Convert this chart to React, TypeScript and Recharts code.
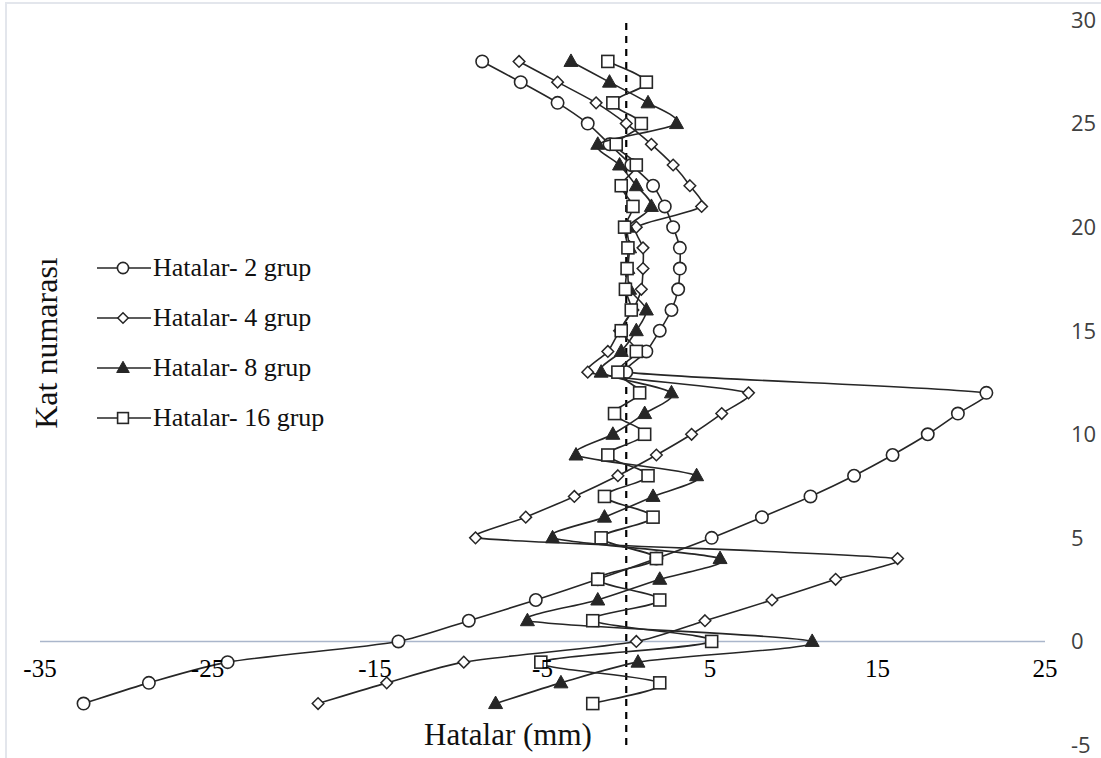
import React from "react";
import {
  Legend,
  ReferenceDot,
  ReferenceLine,
  Scatter,
  ScatterChart,
  XAxis,
  YAxis,
} from "recharts";

// floor numbers, bottom to top
const floors = [
  -3, -2, -1, 0, 1, 2, 3, 4, 5, 6, 7, 8, 9, 10, 11, 12,
  13, 14, 15, 16, 17, 18, 19, 20, 21, 22, 23, 24, 25, 26, 27, 28,
];

// errors (mm) per floor for each grouping
const err2 = [
  -32.4, -28.5, -23.8, -13.6, -9.4, -5.4, -1.7, 1.8, 5.1, 8.1, 11.0, 13.6, 15.9, 18.0, 19.8, 21.5,
  0.0, 1.2, 2.0, 2.7, 3.1, 3.2, 3.2, 2.8, 2.3, 1.6, 0.3, -1.0, -2.3, -4.1, -6.3, -8.6,
];
const err4 = [
  -18.4, -14.3, -9.7, 0.6, 4.7, 8.7, 12.5, 16.2, -9.0, -6.0, -3.1, -0.5, 1.8, 3.9, 5.7, 7.3,
  -2.3, -1.1, -0.4, 0.4, 0.9, 1.0, 1.0, 0.6, 4.5, 3.8, 2.8, 1.5, 0.0, -1.8, -4.1, -6.4,
];
const err8 = [
  -7.8, -3.9, 0.7, 11.1, -5.9, -1.7, 2.0, 5.6, -4.4, -1.3, 1.6, 4.2, -3.0, -0.8, 1.1, 2.7,
  -1.5, -0.3, 0.6, 1.2, 0.2, 0.1, 0.2, 0.1, 1.5, 0.6, -0.4, -1.7, 3.0, 1.3, -1.0, -3.3,
];
const err16 = [
  -2.0, 2.0, -5.1, 5.1, -2.0, 2.0, -1.7, 1.8, -1.5, 1.6, -1.3, 1.3, -1.1, 1.1, -0.7, 0.8,
  -0.5, 0.6, -0.3, 0.3, -0.05, 0.05, 0.1, -0.1, 0.4, -0.3, 0.6, -0.6, 0.9, -0.8, 1.2, -1.1,
];

const seriesNames = ["Hatalar- 2 grup", "Hatalar- 4 grup", "Hatalar- 8 grup", "Hatalar- 16 grup"];
const xTicks = [-35, -25, -15, -5, 5, 15, 25];
const yTicks = [-5, 0, 5, 10, 15, 20, 25, 30];

type MarkerKind = "circle" | "diamond" | "triangle" | "square";

const INK = "#262626";
const SERIF = '"Liberation Serif", "Times New Roman", serif';

const series: { name: string; kind: MarkerKind; data: { x: number; y: number }[] }[] = [
  { name: seriesNames[0], kind: "circle", data: floors.map((f, i) => ({ x: err2[i], y: f })) },
  { name: seriesNames[1], kind: "diamond", data: floors.map((f, i) => ({ x: err4[i], y: f })) },
  { name: seriesNames[2], kind: "triangle", data: floors.map((f, i) => ({ x: err8[i], y: f })) },
  { name: seriesNames[3], kind: "square", data: floors.map((f, i) => ({ x: err16[i], y: f })) },
];

function Marker({ kind, cx, cy, s = 1 }: { kind: MarkerKind; cx: number; cy: number; s?: number }) {
  if (cx == null || cy == null) return null;
  if (kind === "circle") {
    return <circle cx={cx} cy={cy} r={6.2 * s} fill="#fff" stroke={INK} strokeWidth={1.6} />;
  }
  if (kind === "diamond") {
    const d = 5.8 * s;
    return (
      <polygon
        points={`${cx},${cy - d} ${cx + d},${cy} ${cx},${cy + d} ${cx - d},${cy}`}
        fill="#fff"
        stroke={INK}
        strokeWidth={1.5}
      />
    );
  }
  if (kind === "triangle") {
    const w = 7 * s;
    return (
      <polygon
        points={`${cx},${cy - 7.5 * s} ${cx + w},${cy + 5 * s} ${cx - w},${cy + 5 * s}`}
        fill={INK}
        stroke={INK}
        strokeWidth={1}
      />
    );
  }
  const h = 6 * s;
  return <rect x={cx - h} y={cy - h} width={2 * h} height={2 * h} fill="#fff" stroke={INK} strokeWidth={1.6} />;
}

// limit a control-point offset so smoothing doesn't overshoot on zigzags
function capped(dx: number, dy: number, maxLen: number) {
  const len = Math.hypot(dx, dy);
  if (len <= maxLen || len === 0) return [dx, dy];
  const k = maxLen / len;
  return [dx * k, dy * k];
}

// Excel-like smoothed line through the scaled points
function SmoothLine(props: any) {
  const pts = (props.points || []).filter((p: any) => p && p.x != null && p.y != null);
  if (pts.length < 2) return null;
  let d = `M${pts[0].x},${pts[0].y}`;
  for (let i = 0; i < pts.length - 1; i++) {
    const p0 = pts[i - 1] || pts[i];
    const p1 = pts[i];
    const p2 = pts[i + 1];
    const p3 = pts[i + 2] || p2;
    const seg = Math.hypot(p2.x - p1.x, p2.y - p1.y);
    const [ax, ay] = capped((p2.x - p0.x) / 6, (p2.y - p0.y) / 6, seg * 0.25);
    const [bx, by] = capped((p3.x - p1.x) / 6, (p3.y - p1.y) / 6, seg * 0.25);
    d += ` C${p1.x + ax},${p1.y + ay} ${p2.x - bx},${p2.y - by} ${p2.x},${p2.y}`;
  }
  return <path d={d} fill="none" stroke={INK} strokeWidth={1.6} />;
}

function LegendContent() {
  return (
    <div style={{ fontFamily: SERIF, fontSize: 26, color: "#111" }}>
      {series.map((s) => (
        <div key={s.name} style={{ display: "flex", alignItems: "center", height: 50 }}>
          <svg width={56} height={20} style={{ display: "block" }}>
            <line x1={0} y1={10} x2={54} y2={10} stroke={INK} strokeWidth={1.6} />
            <Marker kind={s.kind} cx={26} cy={10} s={0.9} />
          </svg>
          <span style={{ whiteSpace: "nowrap" }}>{s.name}</span>
        </div>
      ))}
    </div>
  );
}

export default function App() {
  return (
    <div style={{ position: "absolute", left: 0, top: 0, width: 1101, height: 758, background: "#fff" }}>
      <div
        style={{
          position: "absolute",
          left: 5,
          top: 2,
          right: 0,
          bottom: 0,
          borderTop: "2px solid #e3e6ec",
          borderLeft: "2px solid #e3e6ec",
        }}
      />
      <ScatterChart width={1101} height={758} margin={{ top: 20, right: 0, left: 40, bottom: 13 }}>
        <XAxis type="number" dataKey="x" domain={[-35, 25]} ticks={xTicks} hide />
        <YAxis
          type="number"
          dataKey="y"
          orientation="right"
          domain={[-5, 30]}
          ticks={yTicks}
          width={56}
          axisLine={false}
          tickLine={false}
          tickSize={6}
          tickMargin={20}
          interval={0}
          tick={{ fill: "#404040", fontSize: 22, fontFamily: "'Open Sans', sans-serif", textAnchor: "start" }}
        />
        <ReferenceLine y={0} stroke="#aab6cb" strokeWidth={1.5} />
        <ReferenceLine x={0} stroke="#000" strokeWidth={2.2} strokeDasharray="7 6" />
        {xTicks.map((t) => (
          <ReferenceDot
            key={t}
            x={t}
            y={0}
            r={0}
            fill="none"
            stroke="none"
            label={{ value: String(t), position: "bottom", offset: 18, fill: "#000", fontSize: 25, fontFamily: SERIF }}
          />
        ))}
        {series.map((s) => (
          <Scatter
            key={s.name}
            name={s.name}
            data={s.data}
            line={<SmoothLine />}
            lineJointType="linear"
            shape={(p: any) => <Marker kind={s.kind} cx={p.cx} cy={p.cy} />}
            isAnimationActive={false}
          />
        ))}
        <Legend
          layout="horizontal"
          align="center"
          verticalAlign="middle"
          content={() => <LegendContent />}
          wrapperStyle={{ left: 97, top: 243, width: 300, height: 200 }}
        />
      </ScatterChart>
      <div
        style={{
          position: "absolute",
          left: 46,
          top: 343,
          transform: "translate(-50%, -50%) rotate(-90deg)",
          fontFamily: SERIF,
          fontSize: 32,
          lineHeight: 1,
          whiteSpace: "nowrap",
          color: "#111",
        }}
      >
        Kat numarası
      </div>
      <div
        style={{
          position: "absolute",
          left: 508,
          top: 734,
          transform: "translate(-50%, -50%)",
          fontFamily: SERIF,
          fontSize: 31,
          lineHeight: 1,
          whiteSpace: "nowrap",
          color: "#111",
        }}
      >
        Hatalar (mm)
      </div>
    </div>
  );
}
